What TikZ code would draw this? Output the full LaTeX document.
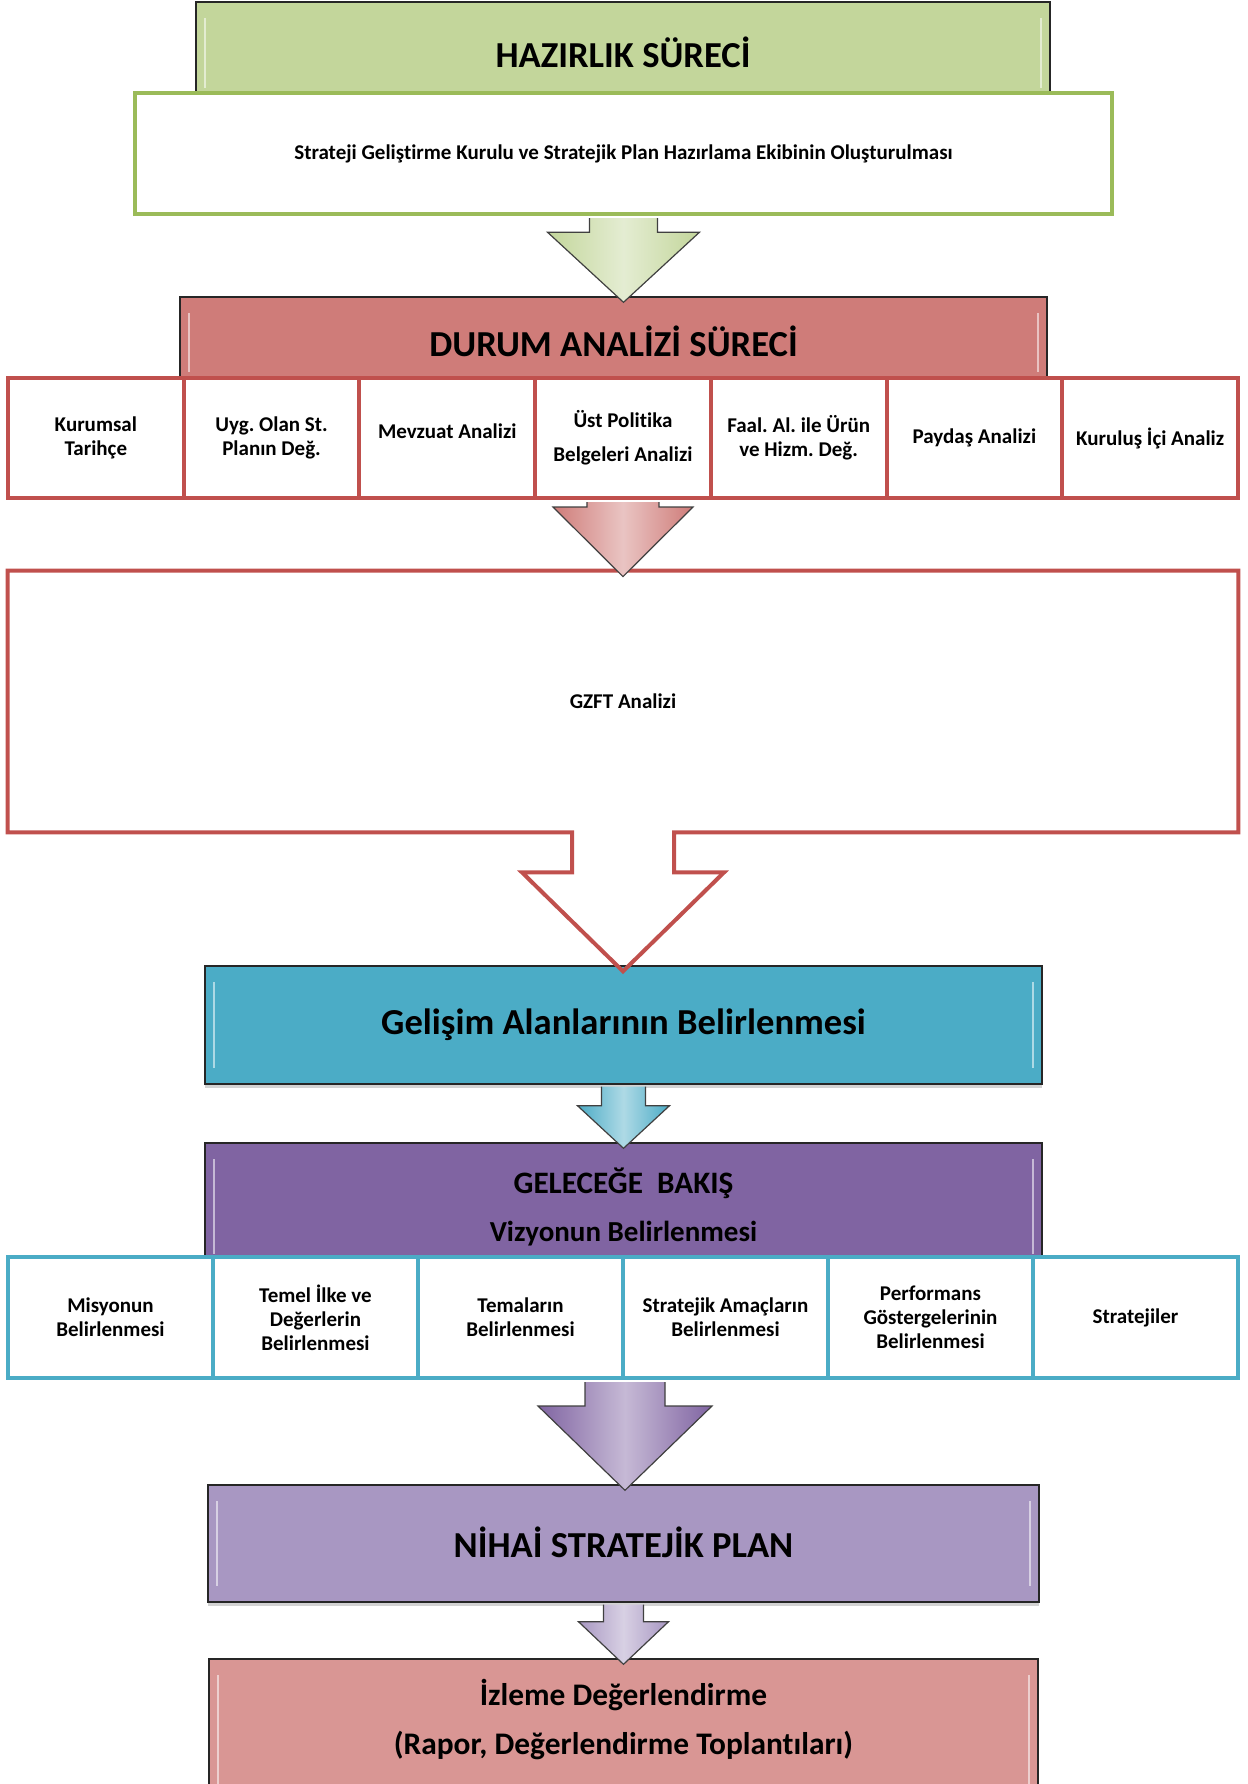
\documentclass[tikz,border=0pt]{standalone}
\usepackage{fontspec}
\setmainfont{Carlito}[Ligatures={NoCommon,NoDiscretionary},Contextuals=NoAlternate]
\usetikzlibrary{calc,shadows}
\frenchspacing

\definecolor{grnfill}{HTML}{C3D69B}
\definecolor{grnline}{HTML}{9BBB59}
\definecolor{redfill}{HTML}{CF7C79}
\definecolor{redline}{HTML}{C0504D}
\definecolor{blufill}{HTML}{4BACC6}
\definecolor{purfill}{HTML}{8064A2}
\definecolor{lilfill}{HTML}{A897C2}
\definecolor{pnkfill}{HTML}{D99694}

\begin{document}
\begin{tikzpicture}
      [x=.5pt,y=-.5pt
      ,hdr/.style={draw=black!85,line width=.7pt,inner sep=0pt,align=center
          ,font=\bfseries\fontsize{18.3}{22}\selectfont
          ,drop shadow={opacity=.35,shadow xshift=0pt,shadow yshift=-2pt}
          ,path picture={\draw[white,opacity=.55,line width=1.3pt]
              ([shift={(4.5pt,-8pt)}]path picture bounding box.north west)
                -- ([shift={(4.5pt,8pt)}]path picture bounding box.south west)
              ([shift={(-4.5pt,-8pt)}]path picture bounding box.north east)
                -- ([shift={(-4.5pt,8pt)}]path picture bounding box.south east);}}
      ,wbox/.style={draw=grnline,fill=white,line width=2.2pt,inner sep=0pt
          ,font=\bfseries\fontsize{10.5}{12}\selectfont}
      ,cell/.style={fill=white,line width=2pt,inner sep=1pt,align=center
          ,font=\bfseries\fontsize{10.5}{12}\selectfont}
      ,barrow/.style={draw=black!75,line width=.6pt,line join=miter}
      ]
        \useasboundingbox (0,0) rectangle (1248,1784);

        \node[hdr,fill=grnfill,minimum width=427pt,minimum height=51pt] (hz) at (623,53) {\raisebox{1pt}{HAZIRLIK SÜRECİ}};
        \node[wbox,minimum width=488.5pt,minimum height=60.5pt] (hzb) at (623.5,153.5)
          {Strateji Geliştirme Kurulu ve Stratejik Plan Hazırlama Ekibinin Oluşturulması};

        \node[hdr,fill=redfill,minimum width=433.5pt,minimum height=45.5pt] (hd) at (613.5,342.5) {\raisebox{1pt}{DURUM ANALİZİ SÜRECİ}};
        \foreach \i/\lbl in {1/{Kurumsal\\Tarihçe},2/{Uyg. Olan St.\\Planın Değ.},3/{Mevzuat Analizi\\[-5pt]\mbox{}},
            4/{Üst Politika\\[5pt]Belgeleri Analizi},5/{Faal. Al. ile Ürün\\ve Hizm. Değ.},6/{Paydaş Analizi},7/{Kuruluş İçi Analiz}}{
          \node[cell,draw=redline,minimum width=87.86pt,minimum height=60pt] (da\i) at ({8+175.71*(\i-.5)},438) {\lbl};
        }
        \node[inner sep=0pt,font=\bfseries\fontsize{10.5}{12}\selectfont
             ,minimum width=615pt,minimum height=130.5pt] (gz) at (623,701.5) {GZFT Analizi};

        \node[hdr,fill=blufill,minimum width=418.5pt,minimum height=59pt] (gel) at (623.5,1025) {Gelişim Alanlarının Belirlenmesi};
        \node[hdr,fill=purfill,minimum width=418.5pt,minimum height=63.5pt
             ,font=\bfseries\fontsize{14.5}{24}\selectfont] (gb) at (623.5,1206.5)
          {{\fontsize{15.6}{24}\selectfont GELECEĞE\ \ BAKIŞ}\\Vizyonun Belirlenmesi};
        \foreach \i/\lbl in {1/{Misyonun\\Belirlenmesi},2/{Temel İlke ve\\Değerlerin\\Belirlenmesi},3/{Temaların\\Belirlenmesi},
            4/{Stratejik Amaçların\\Belirlenmesi},5/{Performans\\Göstergelerinin\\Belirlenmesi},6/{Stratejiler}}{
          \node[cell,draw=blufill,minimum width=102.5pt,minimum height=60.5pt] (ge\i) at ({8+205*(\i-.5)},1317.5) {\lbl};
        }

        \node[hdr,fill=lilfill,minimum width=415.5pt,minimum height=58.5pt] (nsp) at (623.5,1543.5) {\raisebox{1.5pt}{NİHAİ STRATEJİK PLAN}};
        \node[hdr,fill=pnkfill,minimum width=414.5pt,minimum height=70.5pt] (izl) at (623.5,1729.5) {};
        \node[align=center,font=\bfseries\fontsize{15.7}{24.5}\selectfont] (izlt) at (623.5,1719.5)
          {İzleme Değerlendirme\\(Rapor, Değerlendirme Toplantıları)};

        \draw[redline,line width=2pt,line join=miter]
          (gz.south west) -- (gz.north west) -- (gz.north east) -- (gz.south east)
          -- ($(gz.south)+(51,0)$) -- ++(0,40) -- ++(50,0) -- ($(gz.south |- gel.north)+(0,6)$)
          -- ($(gz.south)+(-101,40)$) -- ++(50,0) -- ++(0,-40) -- cycle;

        \foreach \a/\b/\s/\h/\k/\col in {hzb.south/hd.north/34/76/14/grnfill,
            da4.south/gz.north/36/70/5/redfill,
            gel.south/gb.north/22/46/19/blufill,
            ge3.south east/nsp.north/40/87/24/purfill,
            nsp.south/izl.north/20/45/17/lilfill}{
          \draw[barrow,left color=\col,right color=\col,middle color=\col!45!white]
            (\a) ++(-\s,2) -- ++(0,\k) -- ++(\s-\h,0) -- ($(\a |- \b)+(0,6)$)
            -- ($(\a)+(\h,2+\k)$) -- ++(\s-\h,0) -- ++(0,-\k);
        }
\end{tikzpicture}
\end{document}
